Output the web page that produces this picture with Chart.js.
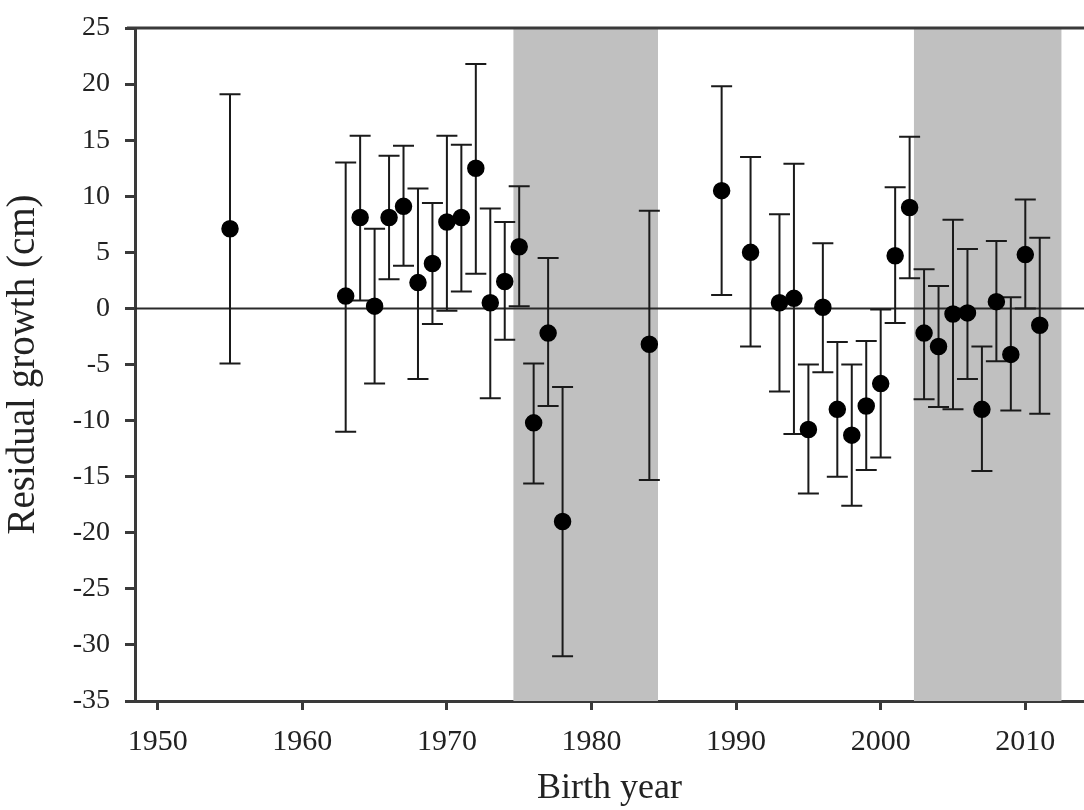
<!DOCTYPE html>
<html>
<head>
<meta charset="utf-8">
<script src="https://cdn.jsdelivr.net/npm/chart.js@4.4.1/dist/chart.umd.min.js"></script>
<style>
  body { margin: 0; background: #fff; }
  #wrap { width: 1084px; height: 810px; }
</style>
</head>
<body>
<div id="wrap"><canvas id="myChart" width="1084" height="810"></canvas></div>
<script>
// birth years and residual growth (cm), with the ends of the error bars
const years = [1955, 1963, 1964, 1965, 1966, 1967, 1968, 1969, 1970, 1971, 1972, 1973, 1974, 1975,
  1976, 1977, 1978, 1984, 1989, 1991, 1993, 1994, 1995, 1996, 1997, 1998, 1999, 2000,
  2001, 2002, 2003, 2004, 2005, 2006, 2007, 2008, 2009, 2010, 2011];
const growth = [7.1, 1.1, 8.1, 0.2, 8.1, 9.1, 2.3, 4.0, 7.7, 8.1, 12.5, 0.5, 2.4, 5.5,
  -10.2, -2.2, -19.0, -3.2, 10.5, 5.0, 0.5, 0.9, -10.8, 0.1, -9.0, -11.3, -8.7, -6.7,
  4.7, 9.0, -2.2, -3.4, -0.5, -0.4, -9.0, 0.6, -4.1, 4.8, -1.5];
const lower = [-4.9, -11.0, 0.7, -6.7, 2.6, 3.8, -6.3, -1.4, -0.2, 1.5, 3.1, -8.0, -2.8, 0.2,
  -15.6, -8.7, -31.0, -15.3, 1.2, -3.4, -7.4, -11.2, -16.5, -5.7, -15.0, -17.6, -14.4, -13.3,
  -1.3, 2.7, -8.1, -8.8, -9.0, -6.3, -14.5, -4.7, -9.1, 0.0, -9.4];
const upper = [19.1, 13.0, 15.4, 7.1, 13.6, 14.5, 10.7, 9.4, 15.4, 14.6, 21.8, 8.9, 7.7, 10.9,
  -4.9, 4.5, -7.0, 8.7, 19.8, 13.5, 8.4, 12.9, -5.0, 5.8, -3.0, -5.0, -2.9, -0.1,
  10.8, 15.3, 3.5, 2.0, 7.9, 5.3, -3.4, 6.0, 1.0, 9.7, 6.3];

// grey periods
const bandStart = [1974.6, 2002.3];
const bandEnd = [1984.6, 2012.5];

const xTicks = [1950, 1960, 1970, 1980, 1990, 2000, 2010];

const points = years.map((y, i) => ({ x: y, y: growth[i] }));

const serif = "'Liberation Serif', 'Times New Roman', serif";

const backdrop = {
  id: 'backdrop',
  beforeDatasetsDraw(chart) {
    const { ctx, chartArea: area, scales: { x, y } } = chart;
    ctx.save();
    // shaded bands
    ctx.fillStyle = '#c0c0c0';
    for (let i = 0; i < bandStart.length; i++) {
      const x0 = x.getPixelForValue(bandStart[i]);
      const x1 = x.getPixelForValue(bandEnd[i]);
      ctx.fillRect(x0, area.top, x1 - x0, area.bottom - area.top);
    }
    // top frame line
    ctx.strokeStyle = '#3a3a3a';
    ctx.lineWidth = 3;
    ctx.beginPath();
    ctx.moveTo(area.left - 8, area.top);
    ctx.lineTo(area.right, area.top);
    ctx.stroke();
    // zero line
    const y0 = y.getPixelForValue(0);
    ctx.lineWidth = 2;
    ctx.strokeStyle = '#2a2a2a';
    ctx.beginPath();
    ctx.moveTo(area.left, y0);
    ctx.lineTo(area.right, y0);
    ctx.stroke();
    // error bars
    ctx.strokeStyle = '#1a1a1a';
    ctx.lineWidth = 2;
    const cap = 10.5;
    for (let i = 0; i < years.length; i++) {
      const px = x.getPixelForValue(years[i]);
      const lo = y.getPixelForValue(lower[i]);
      const hi = y.getPixelForValue(upper[i]);
      ctx.beginPath();
      ctx.moveTo(px, lo); ctx.lineTo(px, hi);
      ctx.moveTo(px - cap, lo); ctx.lineTo(px + cap, lo);
      ctx.moveTo(px - cap, hi); ctx.lineTo(px + cap, hi);
      ctx.stroke();
    }
    ctx.restore();
  }
};

new Chart(document.getElementById('myChart'), {
  type: 'scatter',
  data: {
    datasets: [{
      data: points,
      pointRadius: 8,
      pointHoverRadius: 8,
      pointBackgroundColor: '#000',
      pointBorderColor: '#000',
      pointBorderWidth: 1.5
    }]
  },
  options: {
    responsive: false,
    devicePixelRatio: 1,
    animation: false,
    events: [],
    layout: { autoPadding: false, padding: { top: 28, right: 0, left: 0, bottom: 0 } },
    plugins: { legend: { display: false }, tooltip: { enabled: false } },
    scales: {
      x: {
        type: 'linear',
        min: 1948.43,
        max: 2014.06,
        afterFit(scale) {
          scale.height = 109;
          scale.paddingLeft = 0;
          scale.paddingRight = 0;
        },
        afterBuildTicks(scale) { scale.ticks = xTicks.map(v => ({ value: v })); },
        ticks: {
          stepSize: 10,
          padding: 14,
          color: '#222',
          font: { family: serif, size: 30 },
          maxRotation: 0,
          callback: v => String(v)
        },
        grid: {
          drawOnChartArea: false,
          drawTicks: true,
          tickLength: 9,
          tickWidth: 3,
          tickColor: '#3a3a3a'
        },
        border: { display: true, color: '#3a3a3a', width: 3 },
        title: {
          display: true,
          text: 'Birth year',
          color: '#222',
          font: { family: serif, size: 36 },
          padding: { top: 0, bottom: 0 }
        }
      },
      y: {
        min: -35,
        max: 25,
        afterFit(scale) {
          scale.width = 135;
          scale.paddingTop = 0;
          scale.paddingBottom = 0;
        },
        ticks: {
          stepSize: 5,
          padding: 15,
          color: '#222',
          font: { family: serif, size: 28 }
        },
        grid: {
          drawOnChartArea: false,
          drawTicks: true,
          tickLength: 10,
          tickWidth: 3,
          tickColor: '#3a3a3a'
        },
        border: { display: true, color: '#3a3a3a', width: 3 },
        title: {
          display: true,
          text: 'Residual growth (cm)',
          color: '#222',
          font: { family: serif, size: 39 },
          padding: { top: 0, bottom: 0 }
        }
      }
    }
  },
  plugins: [backdrop]
});
</script>
</body>
</html>
